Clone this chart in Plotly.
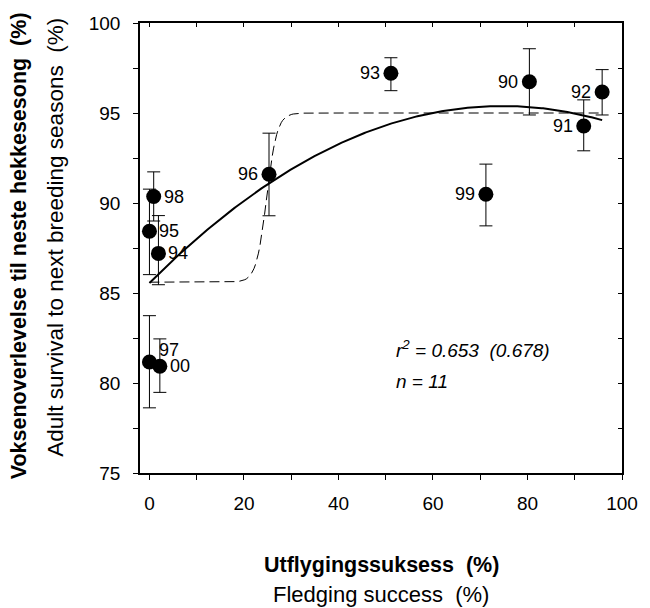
import numpy as np
import plotly.graph_objects as go

# Breeding seasons (19xx / 2000) and measured values
seasons = ["90", "91", "92", "93", "94", "95", "96", "97", "98", "99", "00"]
fledging_success = [80.4, 91.9, 95.8, 51.1, 1.9, 0.0, 25.3, 0.0, 0.9, 71.2, 2.2]
adult_survival = [96.74, 94.28, 96.17, 97.21, 87.20, 88.43, 91.60, 81.17, 90.36, 90.49, 80.93]
survival_upper = [98.57, 95.73, 97.41, 98.07, 89.30, 90.77, 93.88, 83.74, 91.73, 92.16, 82.45]
survival_lower = [94.89, 92.90, 94.89, 96.24, 85.46, 86.02, 89.29, 78.62, 89.00, 88.73, 79.48]

# Fitted models: quadratic regression and threshold (logistic step) model
quad_coef = [85.56, 0.2632, -0.001762]          # a + b*x + c*x^2
step_low, step_high, step_mid, step_scale = 85.6, 95.0, 24.8, 1.1
fit_xmin, fit_xmax = 0.0, 95.8

x_ticks = [0, 20, 40, 60, 80, 100]
y_ticks = [75, 80, 85, 90, 95, 100]

FONT = "Liberation Sans, Arial, sans-serif"
# which side of the marker each season label sits on, plus vertical nudge (px)
label_side = {"90": "left", "91": "left", "92": "left", "93": "left", "96": "left",
              "99": "left", "94": "right", "95": "right", "97": "right",
              "98": "right", "00": "right"}
label_dy = {"97": 12}

xf = np.linspace(fit_xmin, fit_xmax, 300)
quad_y = quad_coef[0] + quad_coef[1] * xf + quad_coef[2] * xf ** 2
step_y = step_low + (step_high - step_low) / (1 + np.exp(-(xf - step_mid) / step_scale))

err_plus = [u - v for u, v in zip(survival_upper, adult_survival)]
err_minus = [v - l for v, l in zip(adult_survival, survival_lower)]

fig = go.Figure()
fig.add_trace(go.Scatter(x=xf, y=step_y, mode="lines",
                         line=dict(color="black", width=1, dash="10px,5px"),
                         hoverinfo="skip", showlegend=False))
fig.add_trace(go.Scatter(x=xf, y=quad_y, mode="lines",
                         line=dict(color="black", width=2),
                         hoverinfo="skip", showlegend=False))
fig.add_trace(go.Scatter(
    x=fledging_success, y=adult_survival, mode="markers",
    marker=dict(color="black", size=15),
    error_y=dict(type="data", symmetric=False, array=err_plus, arrayminus=err_minus,
                 color="black", thickness=1, width=6.5),
    showlegend=False))
# carrier for the inside ticks on top and right edges
fig.add_trace(go.Scatter(x=[None], y=[None], xaxis="x2", yaxis="y2",
                         showlegend=False, hoverinfo="skip"))

for s, x, y in zip(seasons, fledging_success, adult_survival):
    side = label_side[s]
    fig.add_annotation(x=x, y=y, text=s, showarrow=False,
                       xanchor="left" if side == "right" else "right",
                       yanchor="middle",
                       xshift=8 if side == "right" else -9,
                       yshift=label_dy.get(s, 0),
                       font=dict(family=FONT, size=18, color="black"))

fig.add_annotation(x=0.528, y=0.275, xref="paper", yref="paper", xanchor="left",
                   yanchor="middle", showarrow=False,
                   text="<i>r<sup>2</sup> = 0.653  (0.678)</i>",
                   font=dict(family=FONT, size=19, color="black"))
fig.add_annotation(x=0.528, y=0.204, xref="paper", yref="paper", xanchor="left",
                   yanchor="middle", showarrow=False, text="<i>n = 11</i>",
                   font=dict(family=FONT, size=19, color="black"))

# axis titles (two lines each: Norwegian bold, English regular)
fig.add_annotation(x=0.5, y=-0.205, xref="paper", yref="paper", showarrow=False,
                   xanchor="center", yanchor="middle",
                   text="<b>Utflygingssuksess  (%)</b>",
                   font=dict(family=FONT, size=21.5, color="black"))
fig.add_annotation(x=0.5, y=-0.27, xref="paper", yref="paper", showarrow=False,
                   xanchor="center", yanchor="middle",
                   text="Fledging success  (%)",
                   font=dict(family=FONT, size=22, color="black"))
fig.add_annotation(x=-0.252, y=0.505, xref="paper", yref="paper", showarrow=False,
                   xanchor="center", yanchor="middle", textangle=-90,
                   text="<b>Voksenoverlevelse til neste hekkesesong  (%)</b>",
                   font=dict(family=FONT, size=21.5, color="black"))
fig.add_annotation(x=-0.176, y=0.523, xref="paper", yref="paper", showarrow=False,
                   xanchor="center", yanchor="middle", textangle=-90,
                   text="Adult survival to next breeding seasons  (%)",
                   font=dict(family=FONT, size=22.5, color="black"))

axis_font = dict(family=FONT, size=19, color="black")
fig.update_layout(
    width=650, height=608,
    margin=dict(l=140, r=17.6, t=23, b=134.5),
    paper_bgcolor="white", plot_bgcolor="white",
    xaxis=dict(range=[-2, 100], tickvals=x_ticks, ticks="outside", ticklen=5,
               tickwidth=1, tickcolor="black", showgrid=False, zeroline=False,
               showline=True, linecolor="black", linewidth=1.5, mirror=True,
               tickfont=axis_font, ticklabelstandoff=7,
               minor=dict(dtick=10, ticks="outside", ticklen=5, tickcolor="black",
                          showgrid=False)),
    yaxis=dict(range=[75, 100], tickvals=y_ticks, ticks="outside", ticklen=5,
               tickwidth=1, tickcolor="black", showgrid=False, zeroline=False,
               showline=True, linecolor="black", linewidth=1.5, mirror=True,
               tickfont=axis_font, ticklabelstandoff=9,
               minor=dict(dtick=2.5, ticks="outside", ticklen=5, tickcolor="black",
                          showgrid=False)),
    xaxis2=dict(range=[-2, 100], overlaying="x", side="top", anchor="y2",
                dtick=10, tick0=0, ticks="inside", ticklen=4, tickcolor="black",
                showticklabels=False, showgrid=False, zeroline=False, showline=False),
    yaxis2=dict(range=[75, 100], overlaying="y", side="right", anchor="x2",
                dtick=2.5, tick0=75, ticks="inside", ticklen=4, tickcolor="black",
                showticklabels=False, showgrid=False, zeroline=False, showline=False),
)

fig.write_html("out.html")
